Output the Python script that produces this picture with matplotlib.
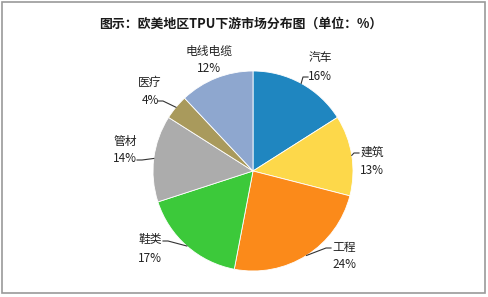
import numpy as np
import matplotlib.pyplot as plt
from matplotlib.patches import Rectangle

plt.rcParams['font.family'] = ['Noto Sans CJK SC', 'DejaVu Sans']

categories = ["汽车", "建筑", "工程", "鞋类", "管材", "医疗", "电线电缆"]
shares = [16, 13, 24, 17, 14, 4, 12]
colors = ["#1f86c0", "#fdd84a", "#fb8a1a", "#3cc93a", "#acacac", "#a99a5c", "#8ea7cf"]
title = "图示：欧美地区TPU下游市场分布图（单位：%）"

# label layout in pixel space: centre (x, y from top), leader row and side
label_pos = [(320, 67), (372, 161), (344, 256), (150, 249), (125, 150), (150, 91), (209, 60)]
leader = [("value", "left"), ("name", "left"), ("name", "left"), ("name", "right"),
          ("value", "right"), ("value", "right"), None]

W, H = 488, 297
fig = plt.figure(figsize=(W / 100, H / 100), dpi=100)
ax = fig.add_axes([0, 0, 1, 1])

cx, cy, r = 253, H - 171, 100
wedges, _ = ax.pie(shares, colors=colors, startangle=90, counterclock=False,
                   center=(cx, cy), radius=r, frame=True,
                   wedgeprops=dict(edgecolor="white", linewidth=0.6))
ax.set_xlim(0, W)
ax.set_ylim(0, H)
ax.axis("off")

for w, name, val, (lx, ly), ld in zip(wedges, categories, shares, label_pos, leader):
    ty = H - ly
    ax.text(lx, ty + 9, name, ha="center", va="center", fontsize=8.5, color="#222222")
    ax.text(lx, ty - 9, f"{val}%", ha="center", va="center", fontsize=8.5, color="#222222")
    if ld is None:
        continue
    row, side = ld
    mid = np.deg2rad((w.theta1 + w.theta2) / 2)
    px, py = cx + r * np.cos(mid), cy + r * np.sin(mid)
    half = 12 if row == "name" else 11
    if name == "医疗":
        half = 7
    sy = ty + 9 if row == "name" else ty - 9
    sy -= 1
    if side == "left":
        sx, kx = lx - half - 1, lx - half - 6
    else:
        sx, kx = lx + half + 1, lx + half + 6
    ax.plot([sx, kx, px], [sy, sy, py], color="#333333", lw=0.8)

ax.text(241, H - 24, title, ha="center", va="center", fontsize=9.3,
        fontweight="bold", color="#1a1a1a")
ax.add_patch(Rectangle((2, 4), W - 5, H - 6, fill=False, edgecolor="#9a9a9a", lw=1.2))

fig.savefig("out.png", dpi=100)
